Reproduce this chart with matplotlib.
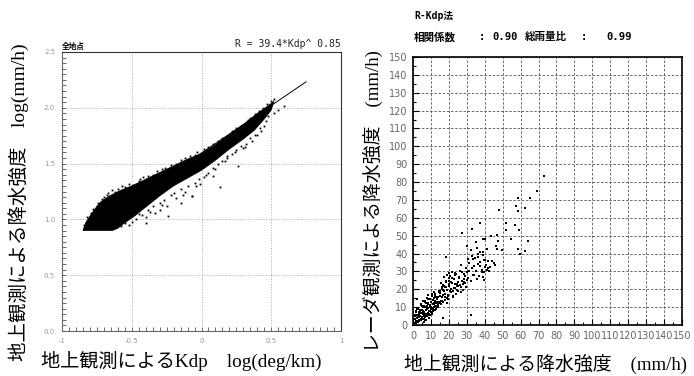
import numpy as np
import matplotlib.pyplot as plt
from matplotlib.ticker import MultipleLocator

# --- left panel: log(Kdp) vs log(R), dense cloud outline + edge points ---
cloud_x = [-0.85, -0.83, -0.80, -0.76, -0.72, -0.66, -0.58, -0.50, -0.40, -0.30, -0.20, -0.10,
           0.00, 0.10, 0.20, 0.30, 0.40, 0.48, 0.52,
           0.50, 0.45, 0.38, 0.30, 0.20, 0.10, 0.00, -0.10, -0.20, -0.30, -0.40, -0.48,
           -0.56, -0.60, -0.64, -0.85]
cloud_y = [0.90, 0.97, 1.03, 1.10, 1.16, 1.21, 1.26, 1.30, 1.36, 1.42, 1.48, 1.54,
           1.59, 1.67, 1.76, 1.85, 1.95, 2.02, 2.06,
           1.98, 1.90, 1.80, 1.72, 1.63, 1.53, 1.44, 1.37, 1.30, 1.21, 1.11, 1.03,
           0.96, 0.92, 0.90, 0.90]

edge_x = [-0.82, -0.78, -0.74, -0.70, -0.67, -0.62, -0.55, -0.52, -0.45, -0.42, -0.35, -0.28,
          -0.22, -0.15, -0.08, -0.03, 0.05, 0.12, 0.18, 0.25, 0.33, 0.38, 0.44, 0.50, 0.52,
          -0.70, -0.62, -0.55, -0.52, -0.47, -0.45, -0.40, -0.38, -0.35, -0.33, -0.30, -0.27,
          -0.25, -0.22, -0.18, -0.15, -0.12, -0.10, -0.07, -0.05, -0.02, 0.02, 0.05, 0.08,
          0.12, 0.15, 0.18, 0.22, 0.25, 0.28, 0.32, 0.35, 0.38, 0.42, 0.46, 0.48, 0.52]
edge_y = [1.02, 1.09, 1.15, 1.20, 1.24, 1.25, 1.29, 1.32, 1.34, 1.38, 1.40, 1.45,
          1.49, 1.53, 1.57, 1.60, 1.65, 1.70, 1.75, 1.82, 1.89, 1.94, 2.00, 2.06, 2.08,
          0.91, 0.93, 0.97, 0.95, 1.00, 1.05, 1.02, 1.08, 1.12, 1.06, 1.15, 1.17,
          1.12, 1.22, 1.19, 1.27, 1.25, 1.30, 1.21, 1.33, 1.36, 1.38, 1.42, 1.46,
          1.50, 1.52, 1.57, 1.59, 1.62, 1.66, 1.68, 1.73, 1.76, 1.82, 1.88, 1.93, 1.95]

edge2_x = [-0.84, -0.79, -0.75, -0.71, -0.68, -0.64, -0.60, -0.57, -0.49, -0.44, -0.38, -0.32,
           -0.26, -0.18, -0.12, -0.05, 0.02, 0.08, 0.15, 0.22, 0.28, 0.35, 0.41, 0.47,
           -0.80, -0.75, -0.66, -0.58, -0.50, -0.43, -0.37, -0.28, -0.20, -0.13, -0.04, 0.03,
           0.10, 0.17, 0.24, 0.31, 0.36, 0.43]
edge2_y = [0.95, 1.06, 1.12, 1.18, 1.22, 1.26, 1.27, 1.30, 1.31, 1.36, 1.39, 1.43,
           1.46, 1.50, 1.55, 1.58, 1.63, 1.68, 1.73, 1.79, 1.84, 1.91, 1.97, 2.03,
           0.92, 0.91, 0.92, 0.94, 0.98, 1.04, 1.07, 1.13, 1.24, 1.22, 1.30, 1.40,
           1.45, 1.52, 1.60, 1.65, 1.70, 1.79]

stray_x = [0.13, 0.08, 0.26, 0.40, 0.59, -0.24, -0.40, -0.01, -0.07, 0.04, 0.18, -0.15,
           0.30, 0.45, 0.55, -0.30]
stray_y = [1.29, 1.39, 1.48, 1.76, 2.02, 1.03, 0.97, 1.32, 1.21, 1.50, 1.55, 1.15,
           1.64, 1.84, 1.98, 1.08]

fit_x = [-0.60, 0.75]
fit_y = [1.085, 2.233]

# --- right panel: gauge vs radar rain rate (mm/h) ---
core_x = [0.8, 1.2, 1.5, 1.9, 2.3, 2.6, 2.8, 3.1, 3.4, 3.7, 3.9, 4.2, 4.4, 4.8, 5.1, 5.3, 5.6, 5.9,
          6.2, 6.4, 6.7, 7.0, 7.3, 7.5, 7.8, 8.1, 8.3, 8.6, 8.9, 9.2, 9.4, 9.7, 10.0, 10.3, 10.5,
          10.8, 11.1, 11.4, 11.6, 11.9, 12.2, 12.5,
          1.7, 2.9, 3.3, 4.6, 5.0, 5.8, 6.6, 7.1, 7.7, 8.4, 8.8, 9.5, 10.1, 10.9, 11.3, 12.0, 12.7, 13.1,
          2.1, 3.6, 4.1, 5.5, 6.0, 6.9, 7.4, 8.0, 9.0, 9.9, 10.6, 11.7, 12.4, 13.3, 13.8]
core_y = [3.5, 5.8, 2.4, 7.2, 4.1, 9.5, 1.8, 6.3, 3.0, 8.4, 5.2, 11.0, 2.7, 6.9, 4.3, 9.8, 13.2, 7.5,
          3.6, 10.7, 5.9, 8.2, 12.4, 4.8, 15.1, 6.6, 9.4, 11.8, 7.9, 14.3, 5.4, 10.2, 8.8, 12.9, 16.5,
          6.8, 11.5, 9.3, 14.9, 18.2, 10.6, 13.7,
          1.3, 4.6, 7.0, 3.2, 10.9, 6.1, 12.6, 2.9, 9.0, 16.8, 5.7, 11.2, 7.4, 13.9, 8.6, 17.1, 12.1, 15.4,
          8.9, 2.2, 5.1, 8.0, 1.9, 4.4, 6.0, 10.5, 3.8, 7.2, 9.7, 11.9, 8.3, 10.1, 12.8]

extra_x = [0.5, 1.0, 1.4, 2.0, 2.5, 3.0, 3.5, 4.0, 4.5, 5.2, 5.7, 6.3, 6.8, 7.2, 7.9, 8.5, 9.1, 9.6,
           10.2, 10.7, 11.2, 11.8, 12.3, 12.9, 13.4, 14.1, 14.7, 15.2, 15.8, 16.3, 16.9, 17.6, 18.2,
           18.8, 19.5, 20.2, 0.9, 1.8, 2.7, 3.8, 4.9, 5.9, 6.5, 7.6, 8.2, 9.3, 10.4, 11.5, 12.6,
           13.7, 14.4, 15.5, 16.6, 17.7, 18.7, 19.8, 21.0, 22.3, 23.4, 24.6]
extra_y = [5.0, 3.1, 8.1, 5.6, 2.0, 9.0, 4.4, 6.7, 11.7, 3.4, 7.8, 5.2, 13.4, 9.9, 4.9, 12.2, 6.4, 14.8,
           10.0, 17.4, 8.1, 12.4, 16.0, 10.4, 13.0, 15.6, 12.2, 19.1, 11.6, 21.4, 17.0, 14.2, 24.0,
           19.5, 16.7, 22.7, 1.0, 2.5, 5.5, 7.7, 8.6, 10.3, 3.0, 5.6, 14.7, 8.0, 6.1, 10.3, 8.7,
           12.1, 18.2, 13.3, 19.4, 21.1, 15.1, 26.2, 24.0, 19.3, 28.0, 21.7]

mid_x = [13.5, 14.2, 14.8, 15.3, 15.9, 16.4, 17.0, 17.5, 18.1, 18.6, 19.2, 19.7, 20.3, 20.8, 21.4,
         21.9, 22.5, 23.0, 23.6, 24.1, 24.7, 25.2, 25.8, 26.3, 26.9, 27.4, 28.0, 28.5, 29.1, 29.6,
         14.0, 15.0, 16.0, 17.2, 18.3, 19.4, 20.5, 21.6, 22.7, 23.8, 24.9, 26.0, 27.1, 28.2, 29.3,
         13.2, 14.6, 16.7, 17.8, 18.9, 19.9, 21.1, 22.2, 23.3, 24.4, 25.5, 26.6, 27.7, 28.8, 30.0,
         15.6, 17.4, 19.0, 20.1, 21.8, 23.5, 25.0, 26.7, 28.3, 30.2]
mid_y = [14.6, 11.2, 17.9, 13.1, 20.4, 15.8, 12.7, 22.1, 17.3, 24.5, 19.6, 14.8, 21.9, 27.3, 18.5,
         23.6, 16.2, 25.9, 20.7, 28.4, 22.8, 18.9, 26.1, 30.5, 21.4, 24.9, 19.7, 28.8, 23.3, 32.1,
         9.8, 16.5, 13.7, 18.8, 21.2, 16.3, 19.0, 26.4, 20.9, 17.6, 24.2, 22.5, 29.6, 25.7, 21.0,
         10.9, 19.3, 22.6, 15.4, 27.8, 29.1, 20.2, 15.9, 23.1, 19.8, 27.0, 18.6, 22.7, 27.5, 25.3,
         23.7, 26.8, 12.4, 24.8, 29.7, 28.9, 21.6, 33.6, 24.1, 29.4]

up_x = [30.8, 31.5, 32.3, 33.0, 33.8, 34.5, 35.3, 36.0, 36.8, 37.5, 38.3, 39.0, 39.8, 40.5, 41.3,
        42.0, 43.0, 44.2,
        31.2, 32.7, 34.1, 35.6, 37.1, 38.6, 40.1, 41.6,
        30.4, 33.4, 36.4, 39.4, 42.6,
        18.4, 27.2, 33.1, 37.4, 38.9, 40.2, 35.0, 35.8, 39.3, 37.4, 41.2, 30.0, 32.2, 36.5, 39.6,
        40.4, 38.9, 33.6,
        32.4, 16.6, 2.4, 45.3, 46.0, 46.2, 46.8, 43.6, 47.3, 46.8]
up_y = [26.3, 34.8, 24.9, 31.7, 28.2, 37.5, 30.1, 33.9, 27.6, 35.2, 31.0, 38.9, 29.4, 33.7, 30.8,
        36.1, 32.5, 35.6,
        30.2, 38.4, 33.3, 25.8, 32.9, 29.9, 36.4, 31.9,
        36.9, 27.9, 39.6, 25.2, 30.3,
        38.2, 51.3, 53.7, 56.9, 47.9, 48.1, 46.6, 43.3, 41.0, 40.6, 42.7, 44.4, 42.0, 38.2, 36.3,
        32.6, 27.0, 36.7,
        5.8, 3.7, 14.5, 34.9, 33.4, 44.2, 42.3, 49.6, 47.0, 50.4]

hi_x = [73.2, 69.3, 65.0, 58.3, 62.4, 57.4, 58.4, 48.2, 52.1, 57.0, 59.2, 64.4, 62.7, 58.3, 59.4,
        51.8, 54.6, 49.9]
hi_y = [83.6, 75.0, 71.3, 71.3, 65.3, 66.6, 63.8, 64.3, 57.3, 55.8, 53.2, 47.2, 41.6, 42.3, 39.7,
        53.2, 47.9, 42.0]

left_xticks = [-1, -0.5, 0, 0.5, 1]
left_xlabels = ['-1', '-0.5', '0', '0.5', '1']
left_yticks = [0, 0.5, 1.0, 1.5, 2.0, 2.5]
left_ylabels = ['0.0', '0.5', '1.0', '1.5', '2.0', '2.5']
right_ticks = list(range(0, 151, 10))

jp_serif = ['Liberation Serif', 'Noto Sans CJK JP']
jp_mono = ['DejaVu Sans Mono', 'Noto Sans CJK JP']

W, H = 694, 376
fig = plt.figure(figsize=(W / 100, H / 100), dpi=100)


def ftext(px, py, s, **kw):
    fig.text(px / W, 1 - py / H, s, **kw)


# left panel
ax1 = fig.add_axes([62 / W, 45 / H, 279 / W, 279 / H])
ax1.fill(cloud_x, cloud_y, color='black', lw=0.5, zorder=3)
for xs, ys in [(edge_x, edge_y), (edge2_x, edge2_y), (stray_x, stray_y)]:
    ax1.plot(xs, ys, 's', color='black', ms=1.3, mew=0, zorder=3)
ax1.plot(fit_x, fit_y, color='black', lw=0.7, zorder=4)
ax1.set_xlim(-1, 1)
ax1.set_ylim(0, 2.5)
ax1.set_xticks(left_xticks, left_xlabels)
ax1.set_yticks(left_yticks, left_ylabels)
ax1.xaxis.set_minor_locator(MultipleLocator(0.05))
ax1.yaxis.set_minor_locator(MultipleLocator(0.05))
ax1.tick_params(which='both', direction='in', length=3, width=0.7, color='#666666',
                labelsize=5, labelcolor='#999999', pad=5)
ax1.grid(which='major', ls=':', color='#aaaaaa', lw=0.7)
for s in ['left', 'bottom']:
    ax1.spines[s].set_color('#666666')
for s in ['top', 'right']:
    ax1.spines[s].set_color('#333333')

# right panel
ax2 = fig.add_axes([413 / W, 51 / H, 269 / W, 268 / H])
for xs, ys in [(core_x, core_y), (extra_x, extra_y), (mid_x, mid_y), (up_x, up_y), (hi_x, hi_y)]:
    ax2.plot(xs, ys, 's', color='black', ms=1.7, mew=0, zorder=3)
ax2.set_xlim(0, 150)
ax2.set_ylim(0, 150)
ax2.set_xticks(right_ticks)
ax2.set_yticks(right_ticks)
ax2.xaxis.set_minor_locator(MultipleLocator(5))
ax2.yaxis.set_minor_locator(MultipleLocator(5))
ax2.tick_params(which='major', direction='in', length=4, width=0.8, labelsize=7,
                labelcolor='#666666', pad=4)
ax2.tick_params(which='minor', direction='in', length=2.5, width=0.8)
ax2.grid(which='major', ls=(0, (3, 2)), color='#555555', lw=0.6)
for s in ax2.spines.values():
    s.set_linewidth(1.2)

# texts
ftext(62, 46, '全地点', fontsize=5.5, fontweight='bold', family='Noto Sans CJK JP',
      ha='left', va='center')
ftext(341, 44, 'R = 39.4*Kdp^ 0.85', fontsize=7, family='DejaVu Sans Mono',
      ha='right', va='center', color='#222222')
ftext(414, 16, 'R-Kdp法', fontsize=7, fontweight='bold', family=jp_mono, ha='left', va='center')
ftext(414, 37, '相関係数', fontsize=7.6, fontweight='bold', family=jp_mono, ha='left', va='center')
ftext(479, 37, ':', fontsize=7.6, fontweight='bold', family=jp_mono, ha='left', va='center')
ftext(492, 37, '0.90', fontsize=7.6, fontweight='bold', family=jp_mono, ha='left', va='center')
ftext(525, 37, '総雨量比', fontsize=7.6, fontweight='bold', family=jp_mono, ha='left', va='center')
ftext(581, 37, ':', fontsize=7.6, fontweight='bold', family=jp_mono, ha='left', va='center')
ftext(606, 37, '0.99', fontsize=7.6, fontweight='bold', family=jp_mono, ha='left', va='center')

ftext(19, 202, '地上観測による降水強度　log(mm/h)', fontsize=14, family=jp_serif,
      rotation=90, ha='center', va='center')
ftext(181, 361, '地上観測によるKdp　log(deg/km)', fontsize=13.8, family=jp_serif,
      ha='center', va='center')
ftext(373, 201, 'レーダ観測による降水強度　(mm/h)', fontsize=13.6, family=jp_serif,
      rotation=90, ha='center', va='center')
ftext(546, 364, '地上観測による降水強度　(mm/h)', fontsize=13.6, family=jp_serif,
      ha='center', va='center')

fig.savefig('out.png', dpi=100)
